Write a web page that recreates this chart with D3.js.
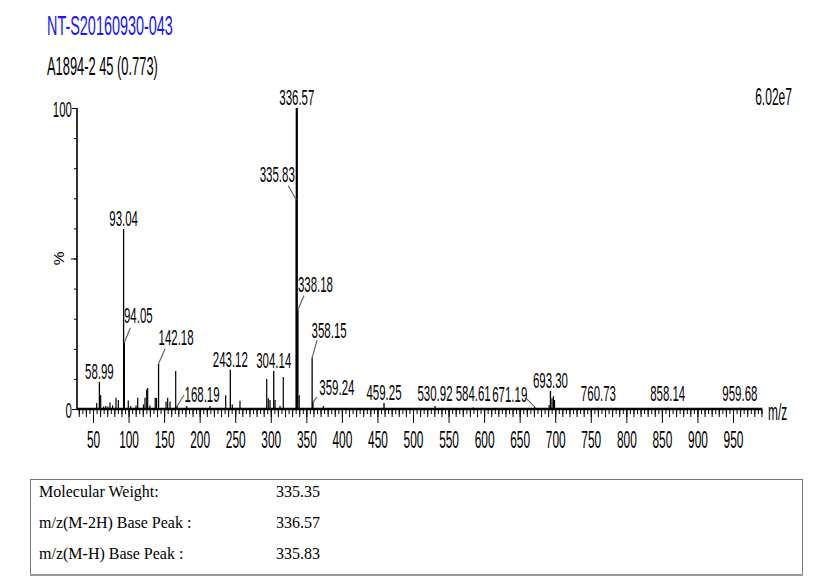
<!DOCTYPE html>
<html>
<head>
<meta charset="utf-8">
<script src="https://cdn.jsdelivr.net/npm/d3@7"></script>
<style>
  body { margin: 0; background: #fff; }
  .narrow { font-family: "Liberation Sans", Arial, sans-serif; }
  .serif { font-family: "Liberation Serif", "Times New Roman", serif; }
</style>
</head>
<body>
<svg id="chart"></svg>
<script>
// Header texts
var titleText = "NT-S20160930-043";
var subtitleText = "A1894-2 45 (0.773)";
var scaleText = "6.02e7";

// Labelled peaks: [m/z, relative intensity %]
var labelledPeaks = [
  [58.99, 9.0], [93.04, 59.8], [94.05, 22.0], [142.18, 15.0], [168.19, 1.0],
  [243.12, 13.0], [304.14, 12.6], [335.83, 69.5], [336.57, 100], [338.18, 33.0],
  [358.15, 17.0], [359.24, 2.3], [459.25, 2.0], [530.92, 1.0], [584.61, 0.5],
  [671.19, 0.7], [693.30, 6.0], [760.73, 0.4], [858.14, 0.4], [959.68, 0.4]
];

// Unlabelled peaks
var minorPeaks = [
  [55.2, 2.0], [60.8, 4.6], [65.0, 0.8], [68.0, 1.0], [71.0, 0.8], [73.9, 2.2],
  [77.5, 1.2], [82.3, 3.7], [85.6, 3.0], [99.6, 2.8], [103.0, 1.0], [110.5, 1.2],
  [112.9, 3.7], [121.0, 1.5], [123.1, 3.7], [125.5, 6.5], [126.9, 7.0], [130.0, 1.2],
  [137.5, 3.7], [139.3, 3.7], [152.7, 2.5], [155.0, 3.7], [158.3, 2.5], [166.3, 12.6],
  [181.8, 1.0], [214.5, 1.0], [236.6, 4.6], [245.9, 1.5], [256.7, 2.7], [294.3, 10.0],
  [296.5, 3.6], [298.9, 3.0], [306.0, 3.0], [313.0, 1.0], [317.6, 10.6], [340.0, 4.6],
  [373.9, 1.0], [691.5, 1.3], [695.5, 3.6], [697.5, 4.3], [699.0, 3.0]
];

var xTicks = d3.range(50, 951, 50);
var yTicks = [0, 100];

var infoLabels = ["Molecular Weight:", "m/z(M-2H) Base Peak :", "m/z(M-H) Base Peak :"];
var infoValues = ["335.35", "336.57", "335.83"];

// label placement for peaks whose label sits off to the side
// dx: label centre from peak, dy: baseline from peak top, lx/ly: leader start
var labelLayout = {
  "335.83": { dx: -19, dy: -18, lx: -8, ly: -14 },
  "338.18": { dx: 17.5, dy: -18, lx: 6, ly: -14 },
  "94.05": { dx: 14, dy: -20, lx: 6, ly: -15 },
  "142.18": { dx: 17.5, dy: -19, lx: 6.5, ly: -15 },
  "168.19": { dx: 25, dy: -4, lx: 7, ly: -11 },
  "358.15": { dx: 17, dy: -20, lx: 5, ly: -18 },
  "359.24": { dx: 24, dy: -7, lx: 4, ly: -5 },
  "671.19": { dx: -25, dy: -5, lx: -9, ly: -9 }
};

var W = 832, H = 584;
var sx = 0.82, sy = 1.6;   // narrow, tall lettering

var svg = d3.select("#chart")
  .attr("width", W)
  .attr("height", H);

svg.append("rect").attr("width", W).attr("height", H).attr("fill", "#fff");

var x = d3.scaleLinear().domain([50, 950]).range([93, 733]);
var y = d3.scaleLinear().domain([0, 100]).range([409, 108]);

function squeeze(tx, ty) {
  return "translate(" + tx + "," + ty + ") scale(" + sx + "," + sy + ")";
}

function tallText(g, tx, ty, str, size, anchor, color) {
  return g.append("text")
    .attr("class", "narrow")
    .attr("transform", squeeze(tx, ty))
    .attr("text-anchor", anchor || "middle")
    .attr("font-size", size)
    .attr("fill", color || "#000")
    .text(str);
}

tallText(svg, 47, 35, titleText, 17.6, "start", "#1515ff");
tallText(svg, 47, 75, subtitleText, 15.7, "start");
tallText(svg, 792, 105, scaleText, 14.7, "end");

// minor x ticks every 5 and every 10
svg.append("g")
  .attr("transform", "translate(0,409)")
  .call(d3.axisBottom(x).tickValues(d3.range(30, 991, 5)).tickSize(5).tickFormat(""))
  .call(function (g) { g.select(".domain").remove(); });

svg.append("g")
  .attr("transform", "translate(0,409)")
  .call(d3.axisBottom(x).tickValues(d3.range(30, 991, 10)).tickSize(8).tickFormat(""))
  .call(function (g) { g.select(".domain").remove(); });

var xAxis = svg.append("g")
  .attr("transform", "translate(0,409)")
  .call(d3.axisBottom(x).tickValues(xTicks).tickSize(14).tickFormat(d3.format("d")));
xAxis.select(".domain").remove();
xAxis.selectAll("text")
  .attr("class", "narrow")
  .attr("font-size", 14.5)
  .attr("fill", "#000")
  .attr("y", 0).attr("dy", 0)
  .attr("transform", squeeze(0, 39));

// y axis
svg.append("g")
  .attr("transform", "translate(77,0)")
  .call(d3.axisLeft(y).tickValues(d3.range(10, 100, 10)).tickSize(3).tickFormat(""))
  .call(function (g) { g.select(".domain").remove(); });
svg.append("g")
  .attr("transform", "translate(77,0)")
  .call(d3.axisLeft(y).tickValues([50]).tickSize(6).tickFormat(""))
  .call(function (g) { g.select(".domain").remove(); });
var yAxis = svg.append("g")
  .attr("transform", "translate(77,0)")
  .call(d3.axisLeft(y).tickValues(yTicks).tickSize(5).tickFormat(d3.format("d")));
yAxis.select(".domain").remove();
yAxis.selectAll("text")
  .attr("class", "narrow")
  .attr("font-size", 14)
  .attr("fill", "#000")
  .attr("x", 0).attr("dy", 0)
  .attr("transform", squeeze(-5, 8.5));
svg.selectAll(".tick line").attr("stroke", "#000");

svg.append("text")
  .attr("class", "narrow")
  .attr("transform", "translate(64," + y(50) + ") rotate(-90) scale(1.1,1)")
  .attr("text-anchor", "middle")
  .attr("font-size", 14)
  .text("%");

// axis lines
svg.append("line")
  .attr("x1", 77).attr("x2", 77)
  .attr("y1", y(100)).attr("y2", y(0))
  .attr("stroke", "#000").attr("stroke-width", 1.6);
svg.append("line")
  .attr("x1", 77).attr("x2", x(991))
  .attr("y1", y(0)).attr("y2", y(0))
  .attr("stroke", "#000").attr("stroke-width", 2.5);

tallText(svg, 768, 420, "m/z", 14.5, "start");

// peaks
var peaks = svg.append("g");
peaks.selectAll(".minor")
  .data(minorPeaks)
  .enter()
  .append("line")
  .attr("class", "minor")
  .attr("x1", function (d) { return x(d[0]); })
  .attr("x2", function (d) { return x(d[0]); })
  .attr("y1", y(0))
  .attr("y2", function (d) { return y(d[1]); })
  .attr("stroke", "#000")
  .attr("stroke-width", 1.2);

peaks.selectAll(".major")
  .data(labelledPeaks)
  .enter()
  .append("line")
  .attr("class", "major")
  .attr("x1", function (d) { return x(d[0]); })
  .attr("x2", function (d) { return x(d[0]); })
  .attr("y1", y(0))
  .attr("y2", function (d) { return y(d[1]); })
  .attr("stroke", "#000")
  .attr("stroke-width", function (d) { return d[1] === 100 ? 2.2 : 1.3; });

// peak labels and leaders
labelledPeaks.forEach(function (d) {
  var key = d[0].toFixed(2);
  var px = x(d[0]), py = y(d[1]);
  var lay = labelLayout[key];
  if (lay) {
    svg.append("line")
      .attr("x1", px + lay.lx).attr("y1", py + lay.ly)
      .attr("x2", px).attr("y2", py)
      .attr("stroke", "#666").attr("stroke-width", 1.2);
    tallText(svg, px + lay.dx, py + lay.dy, key, 14);
  } else {
    tallText(svg, px, Math.min(py - 3, 401), key, 14);
  }
});

// info table
var table = svg.append("g");
table.append("rect")
  .attr("x", 30.5).attr("y", 479.5)
  .attr("width", 772).attr("height", 95)
  .attr("fill", "none").attr("stroke", "#777");
table.append("line")
  .attr("x1", 30).attr("x2", 803)
  .attr("y1", 575).attr("y2", 575)
  .attr("stroke", "#999").attr("stroke-width", 2);

var rowY = d3.scalePoint().domain(d3.range(infoLabels.length)).range([497, 559]);
infoLabels.forEach(function (lab, i) {
  table.append("text").attr("class", "serif")
    .attr("x", 39).attr("y", rowY(i))
    .attr("font-size", 16).attr("fill", "#000")
    .text(lab);
  table.append("text").attr("class", "serif")
    .attr("x", 276).attr("y", rowY(i))
    .attr("font-size", 16).attr("fill", "#000")
    .text(infoValues[i]);
});
</script>
</body>
</html>
